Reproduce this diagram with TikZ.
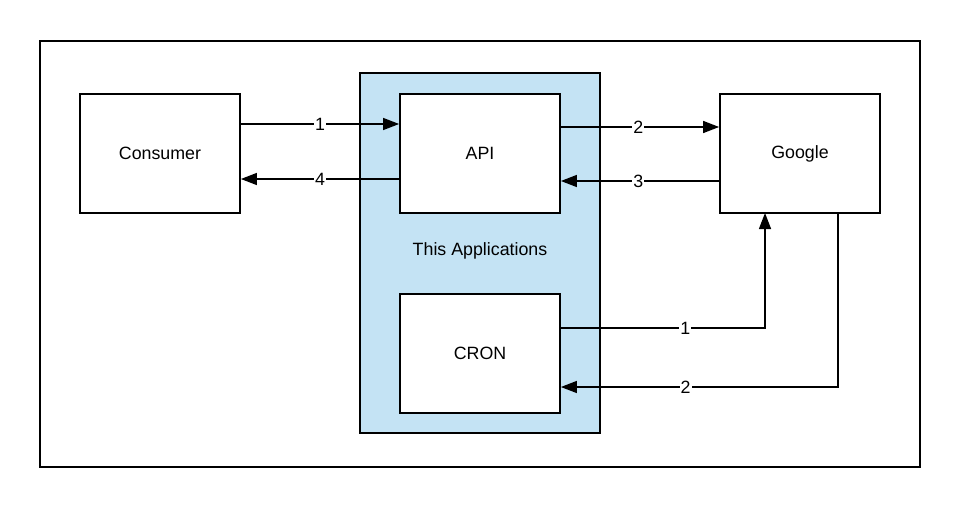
\documentclass[tikz,border=0pt]{standalone}
\usepackage{fontspec}
\setmainfont{Liberation Sans}
\usetikzlibrary{arrows.meta}
\definecolor{appblue}{HTML}{C4E3F4}
\begin{document}
\begin{tikzpicture}[x=1pt,y=-1pt,
  box/.style={draw=black,line width=1.8pt,fill=white,minimum width=160pt,minimum height=119pt,font=\fontsize{17.8}{20}\selectfont,inner sep=0pt},
  conn/.style={draw=black,line width=1.4pt,-{Triangle[length=16pt,width=12pt]}},
  lbl/.style={fill=white,inner sep=1pt,font=\fontsize{17.8}{20}\selectfont}]
\useasboundingbox (0,0) rectangle (960,508);
\fill[white] (0,0) rectangle (960,508);
\node[draw=black,line width=1.8pt,minimum width=880pt,minimum height=426pt,inner sep=0pt] (frame) at (480,254) {};
\node[draw=black,line width=1.8pt,fill=appblue,minimum width=240pt,minimum height=360pt,inner sep=0pt] (app) at (480,253) {};
\node[box] (consumer) at (160,153.5) {Consumer};
\node[box] (api) at (480,153.5) {API};
\node[box] (google) at (800,153.5) {Google};
\node[box] (cron) at (480,353.5) {CRON};
\node[font=\fontsize{17.8}{20}\selectfont] (applbl) at (480,251) {This Applications};
\coordinate (c1a) at (consumer.east |- 0,124);
\coordinate (c1b) at (api.west |- 0,124);
\draw[conn] (c1a) -- node[lbl,pos=0.5] {1} (c1b);
\coordinate (c4a) at (api.west |- 0,179);
\coordinate (c4b) at (consumer.east |- 0,179);
\draw[conn] (c4a) -- node[lbl,pos=0.5] {4} (c4b);
\coordinate (c2a) at (api.east |- 0,127);
\coordinate (c2b) at (google.west |- 0,127);
\draw[conn] (c2a) -- node[lbl,pos=0.49] {2} (c2b);
\coordinate (c3a) at (google.west |- 0,181);
\coordinate (c3b) at (api.east |- 0,181);
\draw[conn] (c3a) -- node[lbl,pos=0.51] {3} (c3b);
\coordinate (k1a) at (cron.east |- 0,328);
\coordinate (k1b) at (765,213);
\draw[conn] (k1a) -- node[lbl,pos=0.61] {1} (765,328) -- (k1b);
\coordinate (k2a) at (838,213);
\coordinate (k2b) at (cron.east |- 0,387);
\draw[conn] (k2a) -- (838,387) -- node[lbl,pos=0.55] {2} (k2b);
\end{tikzpicture}
\end{document}
